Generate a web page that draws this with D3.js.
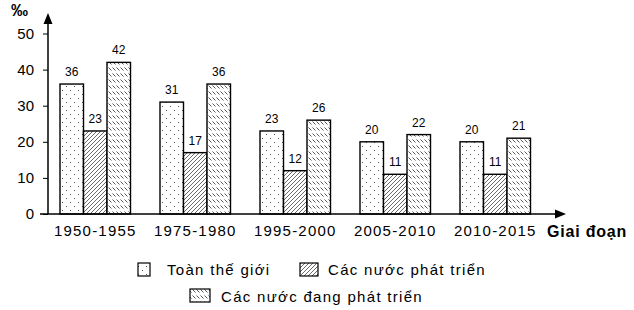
<!DOCTYPE html>
<html>
<head>
<meta charset="utf-8">
<script src="https://cdn.jsdelivr.net/npm/d3@7"></script>
<style>
  body { margin: 0; background: #fff; }
  text { font-family: "Liberation Sans", Arial, sans-serif; fill: #000; }
</style>
</head>
<body>
<svg id="viz"></svg>
<script>
// data
const periods = ['1950-1955', '1975-1980', '1995-2000', '2005-2010', '2010-2015'];
const seriesNames = ['Toàn thế giới', 'Các nước phát triển', 'Các nước đang phát triển'];
const world = [36, 31, 23, 20, 20];
const developed = [23, 17, 12, 11, 11];
const developing = [42, 36, 26, 22, 21];
const yTicks = [0, 10, 20, 30, 40, 50];

const width = 634, height = 310;
const svg = d3.select('#viz').attr('width', width).attr('height', height);

// patterns
const defs = svg.append('defs');
const pDots = defs.append('pattern').attr('id', 'p0').attr('patternUnits', 'userSpaceOnUse')
  .attr('width', 8).attr('height', 8);
pDots.append('rect').attr('width', 8).attr('height', 8).attr('fill', '#fff');
pDots.append('rect').attr('x', 2).attr('y', 2).attr('width', 1).attr('height', 1).attr('fill', '#555');
pDots.append('rect').attr('x', 6).attr('y', 6).attr('width', 1).attr('height', 1).attr('fill', '#555');

const pHatch = defs.append('pattern').attr('id', 'p1').attr('patternUnits', 'userSpaceOnUse')
  .attr('width', 4).attr('height', 4);
pHatch.append('rect').attr('width', 4).attr('height', 4).attr('fill', '#fff');
pHatch.append('path').attr('d', 'M-1,1 L1,-1 M0,4 L4,0 M3,5 L5,3')
  .attr('stroke', '#444').attr('stroke-width', 0.8);

const pDash = defs.append('pattern').attr('id', 'p2').attr('patternUnits', 'userSpaceOnUse')
  .attr('width', 4).attr('height', 6);
pDash.append('rect').attr('width', 4).attr('height', 6).attr('fill', '#fff');
pDash.append('path').attr('d', 'M0.5,1.5 L3.5,4.5')
  .attr('stroke', '#444').attr('stroke-width', 0.9);

const fills = ['url(#p0)', 'url(#p1)', 'url(#p2)'];

// scales
const x0 = 48, yBase = 214;
const xScale = d3.scaleBand().domain(periods)
  .range([x0, x0 + 100 * (5 - 0.295 + 2 * 0.12)])
  .paddingInner(0.295).paddingOuter(0.12);
const xSub = d3.scaleBand().domain([0, 1, 2]).range([0, xScale.bandwidth()]);
const yScale = d3.scaleLinear().domain([0, 50]).range([yBase, 33.5]);

const g = svg.append('g');

// bars
const rows = periods.map((p, i) => ({ p, vals: [world[i], developed[i], developing[i]] }));
const grp = g.selectAll('.grp').data(rows).enter().append('g')
  .attr('transform', d => `translate(${xScale(d.p)},0)`);
grp.selectAll('rect').data(d => d.vals).enter().append('rect')
  .attr('x', (d, i) => xSub(i))
  .attr('y', d => yScale(d))
  .attr('width', xSub.bandwidth())
  .attr('height', d => yBase - yScale(d))
  .attr('fill', (d, i) => fills[i])
  .attr('stroke', '#000').attr('stroke-width', 1.4);
grp.selectAll('.val').data(d => d.vals).enter().append('text')
  .attr('x', (d, i) => xSub(i) + xSub.bandwidth() / 2)
  .attr('y', d => yScale(d) - 8)
  .attr('text-anchor', 'middle')
  .style('font-size', '12px')
  .text(d => d);

// y axis
const yAxis = d3.axisLeft(yScale).tickValues(yTicks).tickSize(5).tickPadding(9);
const ya = svg.append('g').attr('transform', `translate(${x0},0)`).call(yAxis);
ya.select('.domain').remove();
ya.selectAll('line').attr('stroke', '#000');
ya.selectAll('text').style('font-size', '15px');
svg.append('line').attr('x1', x0).attr('x2', x0).attr('y1', yBase).attr('y2', 22)
  .attr('stroke', '#000').attr('stroke-width', 1.5);
svg.append('path').attr('d', `M${x0},13 L${x0 - 4.5},24 L${x0 + 4.5},24 Z`).attr('fill', '#000');
svg.append('text').attr('x', 11).attr('y', 16).style('font-size', '17px').style('font-weight', 'bold').text('‰');

// x axis
const xAxis = d3.axisBottom(xScale).tickSize(0).tickPadding(11);
const xa = svg.append('g').attr('transform', `translate(0,${yBase})`).call(xAxis);
xa.select('.domain').remove();
xa.selectAll('text').style('font-size', '15px').style('letter-spacing', '1.2px');
svg.append('line').attr('x1', 40).attr('x2', 557).attr('y1', yBase).attr('y2', yBase)
  .attr('stroke', '#000').attr('stroke-width', 1.5);
svg.append('path').attr('d', `M566,${yBase} L555,${yBase - 4.5} L555,${yBase + 4.5} Z`).attr('fill', '#000');
svg.append('text').attr('x', 547).attr('y', 237).style('font-size', '16px').style('font-weight', 'bold')
  .style('letter-spacing', '0.8px').text('Giai đoạn');

// legend
const legendPos = [
  { bx: 138, by: 263, bw: 12, bh: 13, tx: 167, ty: 275 },
  { bx: 300, by: 263, bw: 18, bh: 13, tx: 328, ty: 275 },
  { bx: 190, by: 289, bw: 20, bh: 13, tx: 221, ty: 302 }
];
const lg = svg.selectAll('.leg').data(seriesNames).enter().append('g');
lg.append('rect')
  .attr('x', (d, i) => legendPos[i].bx).attr('y', (d, i) => legendPos[i].by)
  .attr('width', (d, i) => legendPos[i].bw).attr('height', (d, i) => legendPos[i].bh)
  .attr('fill', (d, i) => fills[i]).attr('stroke', '#000').attr('stroke-width', 1.2);
lg.append('text')
  .attr('x', (d, i) => legendPos[i].tx).attr('y', (d, i) => legendPos[i].ty)
  .style('font-size', '15px').style('letter-spacing', '1.3px')
  .text(d => d);
</script>
</body>
</html>
